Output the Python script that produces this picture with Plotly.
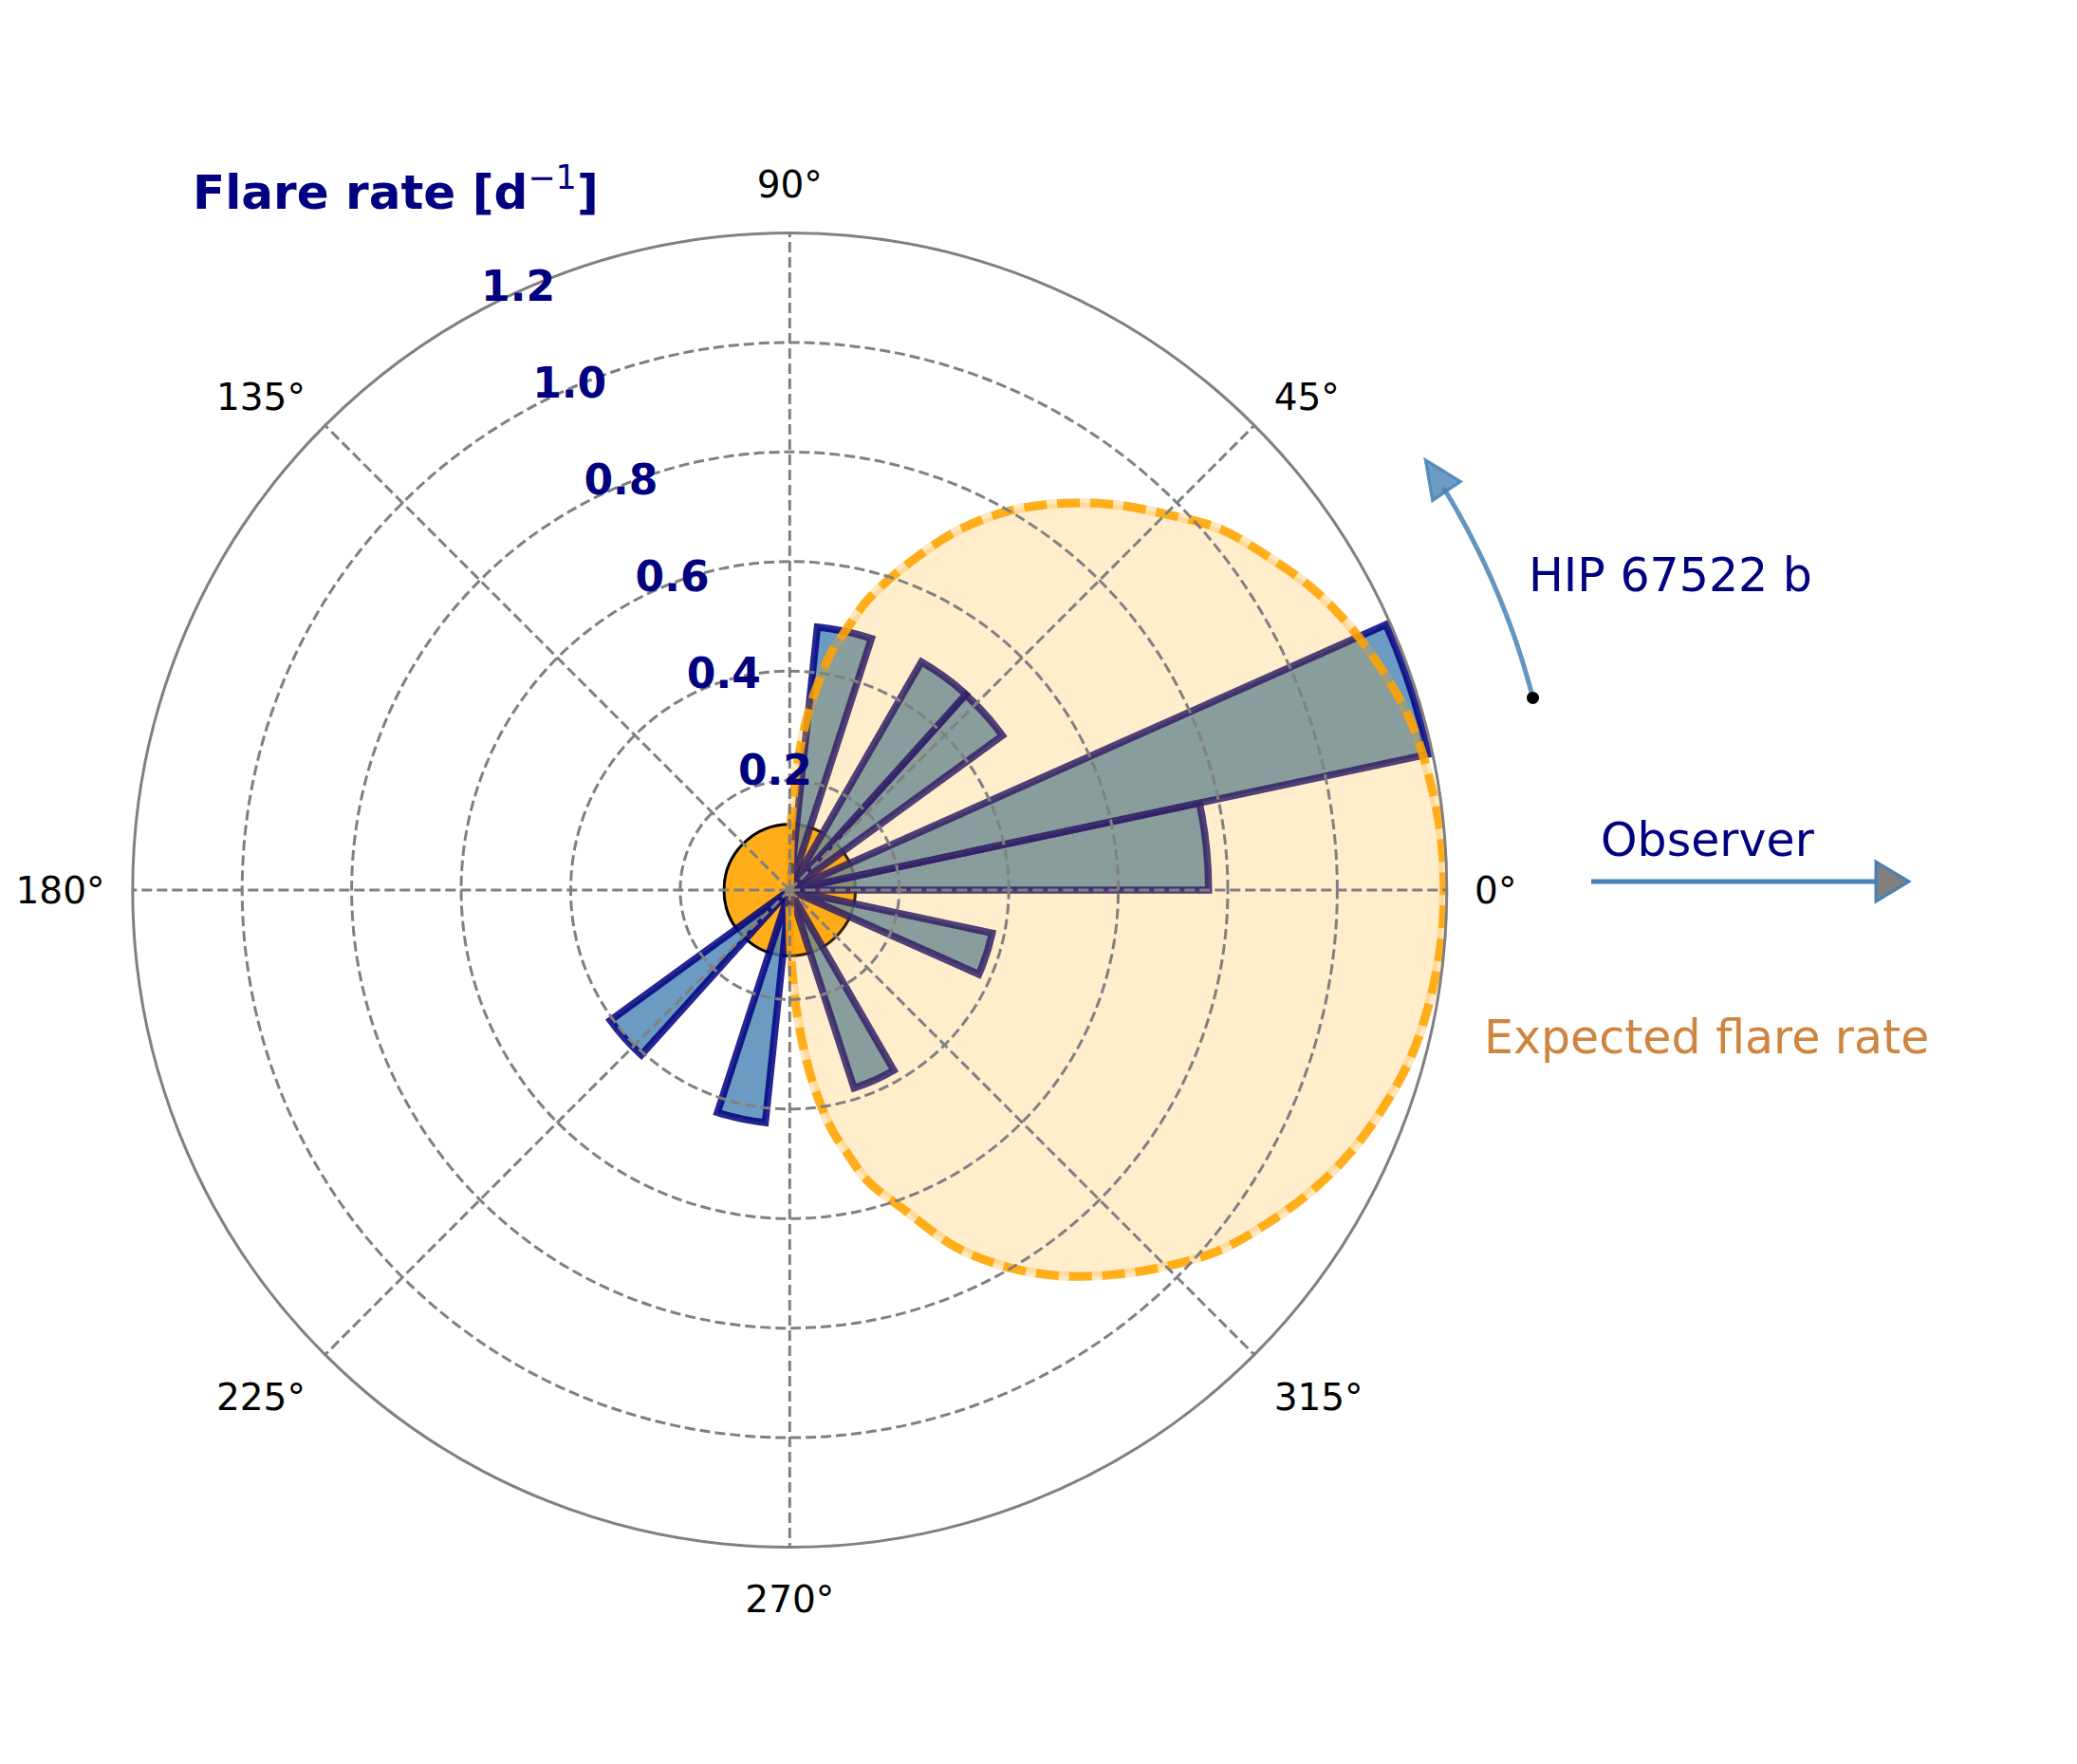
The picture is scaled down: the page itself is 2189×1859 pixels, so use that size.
import numpy as np
import plotly.graph_objects as go

W, H = 2189, 1859

# ---------------- data ----------------
BIN_CENTERS = [6, 18, 42, 54, 78, 222, 258, 294, 342]   # deg
BIN_WIDTH = 12
FLARE_RATE = [0.765, 1.192, 0.48, 0.481, 0.483, 0.405, 0.427, 0.38, 0.378]

EXPECTED_THETA = [-90, -89.5, -89, -88, -87, -86, -85, -83, -80, -78, -75, -70, -65,
                  -60, -55, -50, -45, -40, -35, -30, -25, -20, -15, -10, -5,
                  0,
                  5, 10, 15, 20, 25, 30, 35, 40, 45, 50, 55, 60, 65, 70, 75, 78,
                  80, 83, 85, 86, 87, 88, 89, 89.5, 90]
EXPECTED_R = [0, 0.07, 0.11, 0.16, 0.21, 0.25, 0.29, 0.36, 0.445, 0.485, 0.55, 0.625, 0.72,
              0.795, 0.86, 0.917, 0.972, 1.024, 1.063, 1.1, 1.131, 1.155, 1.175, 1.186, 1.193,
              1.195,
              1.193, 1.186, 1.176, 1.156, 1.132, 1.102, 1.064, 1.026, 0.971, 0.919, 0.862,
              0.799, 0.724, 0.635, 0.548, 0.481, 0.443, 0.357, 0.29, 0.25, 0.21, 0.155,
              0.11, 0.07, 0]

STAR_RADIUS = 0.12
R_MAX = 1.2
R_TICKS = [0.2, 0.4, 0.6, 0.8, 1.0, 1.2]
R_TICKTEXT = ["0.2", "0.4", "0.6", "0.8", "1.0", "1.2"]
ANG_TICKS = [0, 45, 90, 135, 180, 225, 270, 315]
ANG_TICKTEXT = ["0°", "45°", "90°", "135°", "180°", "225°", "270°", "315°"]

# ---------------- layout geometry ----------------
CX, CY, RAD = 832.3, 938.0, 692.5          # polar centre / radius in pixels (from top-left)
dom_x = [(CX - RAD) / W, (CX + RAD) / W]
dom_y = [(H - CY - RAD) / H, (H - CY + RAD) / H]
R_LABEL_ANGLE = 118
# radial tick labels live on an overlay polar whose centre is nudged (pixels)
LBL_DX, LBL_DY = -20, -21
dom_x_lbl = [(CX + LBL_DX - RAD) / W, (CX + LBL_DX + RAD) / W]
dom_y_lbl = [(H - CY - LBL_DY - RAD) / H, (H - CY - LBL_DY + RAD) / H]

STEEL = "rgba(70,130,180,0.85)"
FONT = "DejaVu Sans"

fig = go.Figure()

# star
fig.add_trace(go.Barpolar(r=[STAR_RADIUS], theta=[0], width=[360], base=0,
                          marker=dict(color="rgba(255,165,0,0.9)",
                                      line=dict(color="black", width=3)),
                          hoverinfo="skip", subplot="polar"))
# observed flare rate
fig.add_trace(go.Barpolar(r=FLARE_RATE, theta=BIN_CENTERS, width=[BIN_WIDTH] * len(FLARE_RATE),
                          marker=dict(color="rgba(70,130,180,0.8)",
                                      line=dict(color="rgba(0,0,128,0.85)", width=7.5)),
                          subplot="polar"))
# expected flare rate: fill
fig.add_trace(go.Scatterpolar(r=EXPECTED_R, theta=EXPECTED_THETA, mode="lines",
                              fill="toself", fillcolor="rgba(255,165,0,0.2)",
                              line=dict(color="rgba(255,165,0,0.25)", width=10, shape="spline"),
                              hoverinfo="skip", subplot="polar"))
# expected flare rate: dashed outline
fig.add_trace(go.Scatterpolar(r=EXPECTED_R, theta=EXPECTED_THETA, mode="lines",
                              line=dict(color="rgba(255,165,0,0.85)", width=9,
                                        dash="24px,11px", shape="spline"),
                              hoverinfo="skip", subplot="polar"))
# dummy traces to activate the overlay polars (grid on top, radial labels)
for sp in ("polar2", "polar3"):
    fig.add_trace(go.Scatterpolar(r=[0], theta=[0], mode="markers",
                                  marker=dict(size=1, color="rgba(0,0,0,0)"),
                                  hoverinfo="skip", subplot=sp))

grid = dict(gridcolor="gray", gridwidth=2.5, griddash="11px,5px")
hidden_angular = dict(showgrid=False, showticklabels=False, showline=False, ticks="",
                      direction="counterclockwise", rotation=0)

fig.update_layout(
    width=W, height=H,
    margin=dict(l=0, r=0, t=0, b=0),
    paper_bgcolor="white",
    showlegend=False,
    font=dict(family=FONT),
    polar=dict(
        domain=dict(x=dom_x, y=dom_y),
        bgcolor="rgba(0,0,0,0)",
        barmode="overlay",
        radialaxis=dict(range=[0, R_MAX], showgrid=False, showticklabels=False,
                        showline=False, ticks=""),
        angularaxis=hidden_angular,
    ),
    polar2=dict(
        domain=dict(x=dom_x, y=dom_y),
        bgcolor="rgba(0,0,0,0)",
        radialaxis=dict(range=[0, R_MAX], tickmode="array", tickvals=R_TICKS,
                        showticklabels=False, angle=R_LABEL_ANGLE,
                        showline=False, ticks="", **grid),
        angularaxis=dict(tickmode="array", tickvals=ANG_TICKS, ticktext=ANG_TICKTEXT,
                         direction="counterclockwise", rotation=0,
                         showline=True, linecolor="gray", linewidth=3,
                         ticks="outside", ticklen=20, tickcolor="rgba(0,0,0,0)",
                         tickfont=dict(family=FONT, size=39, color="black"),
                         **grid),
    ),
    polar3=dict(
        domain=dict(x=dom_x_lbl, y=dom_y_lbl),
        bgcolor="rgba(0,0,0,0)",
        radialaxis=dict(range=[0, R_MAX], tickmode="array", tickvals=R_TICKS,
                        ticktext=R_TICKTEXT, angle=R_LABEL_ANGLE, side="clockwise",
                        tickangle=R_LABEL_ANGLE, showgrid=False,
                        showline=False, ticks="",
                        tickfont=dict(family=FONT, size=44, color="#000080", weight="bold")),
        angularaxis=hidden_angular,
    ),
)


def to_paper(px, py):
    return px / W, 1 - py / H


shapes = []
annotations = []

# ---- curved arrow for the planet (arc around the polar centre) ----
ARC_R = 809.0
A_START, A_END, A_TIP = 14.5, 31.6, 34.1
aa = np.radians(np.linspace(A_START, A_END, 40))
pts = [to_paper(CX + ARC_R * np.cos(a), CY - ARC_R * np.sin(a)) for a in aa]
path = "M " + " L ".join(f"{x:.5f},{y:.5f}" for x, y in pts)
shapes.append(dict(type="path", path=path, xref="paper", yref="paper",
                   line=dict(color=STEEL, width=5)))
# arrow head
at = np.radians(A_TIP)
tip = np.array([CX + ARC_R * np.cos(at), CY - ARC_R * np.sin(at)])
tang = np.array([-np.sin(at), -np.cos(at)])    # screen coords, CCW direction
norm = np.array([np.cos(at), -np.sin(at)])
L, HW = 40, 18
base = tip - L * tang
tri = [tip, base + HW * norm, base - HW * norm]
tp = [to_paper(*p) for p in tri]
shapes.append(dict(type="path", xref="paper", yref="paper",
                   path="M " + " L ".join(f"{x:.5f},{y:.5f}" for x, y in tp) + " Z",
                   fillcolor="rgba(70,130,180,0.8)", line=dict(color=STEEL, width=3)))
# start dot
a0 = np.radians(A_START)
dx, dy = CX + ARC_R * np.cos(a0), CY - ARC_R * np.sin(a0)
r_dot = 6.5
x0, y0 = to_paper(dx - r_dot, dy + r_dot)
x1, y1 = to_paper(dx + r_dot, dy - r_dot)
shapes.append(dict(type="circle", xref="paper", yref="paper", x0=x0, y0=y0, x1=x1, y1=y1,
                   fillcolor="black", line=dict(color="black", width=0)))

# ---- observer arrow ----
OY = 929
ox0, oy = to_paper(1677, OY)
ox1, _ = to_paper(1979, OY)
shapes.append(dict(type="line", xref="paper", yref="paper", x0=ox0, x1=ox1, y0=oy, y1=oy,
                   line=dict(color="rgb(70,130,180)", width=5)))
hp = [to_paper(1977, OY - 21), to_paper(2012, OY), to_paper(1977, OY + 21)]
shapes.append(dict(type="path", xref="paper", yref="paper",
                   path="M " + " L ".join(f"{x:.5f},{y:.5f}" for x, y in hp) + " Z",
                   fillcolor="gray", line=dict(color="rgb(70,130,180)", width=3)))

# ---- texts ----
def add_text(text, px, py, size, color, xanchor="center"):
    x, y = to_paper(px, py)
    annotations.append(dict(text=text, x=x, y=y, xref="paper", yref="paper",
                            xanchor=xanchor, yanchor="middle", showarrow=False,
                            font=dict(family=FONT, size=size, color=color)))


add_text("<b>Flare rate [d</b><sup>−1</sup><b>]</b>", 201, 200, 50, "#000080", xanchor="left")
add_text("HIP 67522 b", 1760, 606, 49, "#000080")
add_text("Observer", 1800, 886, 49, "#000080")
add_text("Expected flare rate", 1798, 1093, 49, "#CD853F")

fig.update_layout(shapes=shapes, annotations=annotations)

fig.write_html("out.html", post_script="document.body.style.margin='0';",
               config={"displayModeBar": False})
